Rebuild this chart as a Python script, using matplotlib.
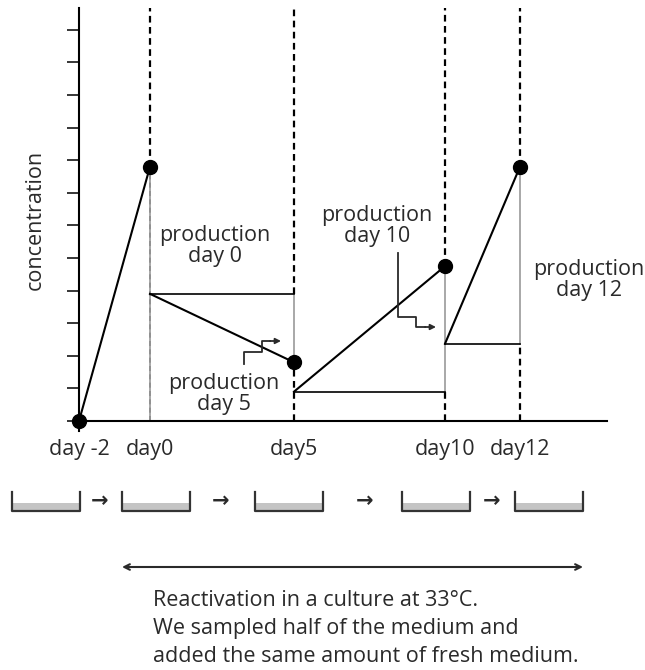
"""Schematic: medium concentration across a reactivation culture with
half-medium sampling, plus the dish sequence and a caption underneath."""

import matplotlib

matplotlib.use("Agg")
import matplotlib.pyplot as plt
from matplotlib.patches import Rectangle

plt.rcParams["font.family"] = ["Open Sans", "DejaVu Sans"]

# --- data -------------------------------------------------------------
days = ["day -2", "day0", "day5", "day10", "day12"]
peak = [0.0, 7.8, 1.8, 4.75, 7.8]          # concentration just before sampling
after = [0.0, 3.9, 0.9, 2.37, None]        # after half the medium was replaced
prod_labels = ["production\nday 0", "production\nday 5",
               "production\nday 10", "production\nday 12"]
caption = [
    "Reactivation in a culture at 33°C.",
    "We sampled half of the medium and",
    "added the same amount of fresh medium.",
]

# --- layout (pixels of a 645x670 canvas) --------------------------------
W, H = 645, 670
DAY_X = [0, 71, 215, 366, 441]             # slot of each day along the axis
PX_PER_UNIT = 32.6
INK = "#2a2a2a"
GREY = "#a8a8a8"
FS = 15.5

fig = plt.figure(figsize=(W / 100, H / 100), dpi=100)
ax = fig.add_axes([79 / W, (H - 431) / H, (607 - 79) / W, (431 - 8) / H])
ax.set_xlim(0, 528)
ax.set_ylim(-10 / PX_PER_UNIT, (421 - 8) / PX_PER_UNIT)
top = (421 - 8) / PX_PER_UNIT

for s in ("top", "right"):
    ax.spines[s].set_visible(False)
ax.spines["left"].set_linewidth(1.5)
ax.spines["bottom"].set_linewidth(1.5)
ax.spines["bottom"].set_position(("data", 0))
ax.set_yticks(range(13))
ax.set_yticklabels([])
ax.tick_params(axis="y", direction="out", length=8.6, width=1.1)
ax.set_xticks(DAY_X, days)
ax.tick_params(axis="x", length=0, pad=13, labelsize=FS, labelcolor=INK)
ax.set_ylabel("concentration", fontsize=FS, color=INK, labelpad=12)

# vertical markers: dashed guide, grey span for each production interval
for i in range(1, len(days)):
    x = DAY_X[i]
    hi = max(peak[i], after[i - 1])
    lo = min(peak[i], after[i - 1])
    ax.plot([x, x], [lo, hi], color=GREY, lw=1.4, zorder=2)
    ax.plot([x, x], [hi, top], color="black", lw=1.6, ls=(0, (3, 2)), zorder=2)
    if lo > 0:
        ax.plot([x, x], [0, lo], color="black", lw=1.6, ls=(0, (3, 2)), zorder=2)
    else:
        ax.plot([x, x], [0, hi], color="#7a7a7a", lw=1.2, ls=(0, (3, 2)),
                alpha=0.6, zorder=2)

# accumulation between samplings
for i in range(len(days) - 1):
    ax.plot([DAY_X[i], DAY_X[i + 1]], [after[i], peak[i + 1]],
            color="black", lw=1.5, zorder=3)
# level left after each sampling, carried to the next one
for i in range(1, len(days) - 1):
    ax.plot([DAY_X[i], DAY_X[i + 1]], [after[i], after[i]],
            color="black", lw=1.2, zorder=3)

ax.plot(DAY_X, peak, "o", color="black", ms=10, zorder=5, clip_on=False)

# --- overlay in canvas pixels -----------------------------------------
ov = fig.add_axes([0, 0, 1, 1], facecolor="none")
ov.set_xlim(0, W)
ov.set_ylim(H, 0)
ov.axis("off")

label_pos = [(215, 246), (224, 394), (377, 226), (589, 280)]
for (x, y), t in zip(label_pos, prod_labels):
    ov.text(x, y, t, ha="center", va="center", fontsize=FS, color=INK,
            linespacing=1.05)


def _step_arrow(pts):
    xs, ys = zip(*pts[:-1])
    ov.plot(xs, ys, color=INK, lw=1.3)
    ov.annotate("", xy=pts[-1], xytext=pts[-2],
                arrowprops=dict(arrowstyle="-|>", color=INK, lw=1.3,
                                mutation_scale=8, shrinkA=0, shrinkB=0))


_step_arrow([(244, 364), (244, 352), (262, 352), (262, 341), (270, 341), (281, 341)])
_step_arrow([(398, 253), (398, 317), (416, 317), (416, 327), (425, 327), (436, 327)])

# culture dishes and the hand-off arrows
for x0 in (12, 122, 255, 402, 515):
    x1 = x0 + 68
    ov.add_patch(Rectangle((x0, 503), x1 - x0, 8, fc="#c4c4c4", ec="none"))
    ov.plot([x0, x0, x1, x1], [492, 511, 511, 492], color="#333333", lw=1.6,
            solid_joinstyle="round")
for x in (100, 221, 365, 492):
    ov.text(x, 501, "→", ha="center", va="center", fontsize=15, color=INK,
            family=["DejaVu Sans"], fontweight="bold")

ov.annotate("", xy=(583, 567), xytext=(122, 567),
            arrowprops=dict(arrowstyle="<->", color=INK, lw=1.5,
                            mutation_scale=10, shrinkA=0, shrinkB=0))
for k, line in enumerate(caption):
    ov.text(153, 601 + 27.5 * k, line, ha="left", va="center",
            fontsize=FS, color=INK)

fig.savefig("out.png", dpi=100)
